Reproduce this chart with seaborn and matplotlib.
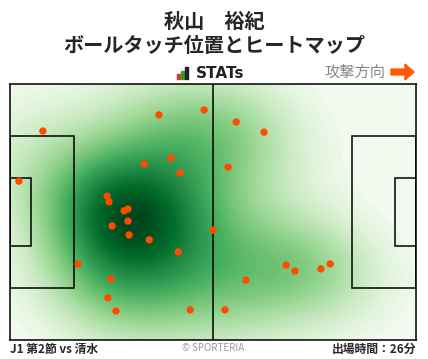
import numpy as np
import pandas as pd
import matplotlib.pyplot as plt
import matplotlib.patches as patches
import seaborn as sns

sns.set_style("white")
plt.rcParams['font.family'] = ['Noto Sans CJK JP', 'DejaVu Sans']

# ball touch positions (pitch 105 x 68, y measured from top touchline)
touch_x = [8.5, 2.3, 38.5, 50.2, 58.5, 65.7, 41.6, 34.7, 44.0, 56.4,
           25.1, 25.6, 30.5, 29.5, 30.5, 26.4, 30.8, 36.0, 52.5, 43.5,
           17.6, 26.1, 25.3, 27.4, 46.6, 55.6, 61.0, 71.4, 73.7, 80.4, 82.8]
touch_y = [12.5, 25.8, 8.2, 6.9, 10.1, 12.8, 19.7, 21.3, 23.6, 22.1,
           29.8, 31.3, 33.2, 33.7, 36.4, 37.7, 40.1, 41.4, 38.8, 44.6,
           47.8, 51.8, 56.8, 60.3, 60.0, 60.0, 52.1, 48.1, 49.7, 49.1, 47.8]
df = pd.DataFrame({"x": touch_x, "y": touch_y})

player = "秋山　裕紀"
subtitle = "ボールタッチ位置とヒートマップ"
match = "J1 第2節 vs 清水"
minutes = "出場時間：26分"

fig = plt.figure(figsize=(4.28, 3.59), dpi=100)
ax = fig.add_axes([10/428, 19/359, 406/428, 256/359])

sns.kdeplot(data=df, x="x", y="y", fill=True, cmap="Greens", levels=100,
            thresh=0, clip=((0, 105), (0, 68)), bw_adjust=1.25, ax=ax, zorder=1)

lw = 1.1
# halfway line
ax.plot([52.5, 52.5], [0, 68], color="black", lw=lw, zorder=3)
# penalty and goal areas
for x0, w in [(0, 16.5), (105 - 16.5, 16.5)]:
    ax.add_patch(patches.Rectangle((x0, 34 - 20.16), w, 40.32, fill=False,
                                   ec="black", lw=lw, zorder=3))
for x0, w in [(0, 5.5), (105 - 5.5, 5.5)]:
    ax.add_patch(patches.Rectangle((x0, 34 - 9.16), w, 18.32, fill=False,
                                   ec="black", lw=lw, zorder=3))

sns.scatterplot(data=df, x="x", y="y", color="#ff4b00", s=28, edgecolor="none",
                ax=ax, zorder=4)

ax.set_xlim(0, 105)
ax.set_ylim(68, 0)
ax.set_xticks([])
ax.set_yticks([])
ax.set_xlabel("")
ax.set_ylabel("")
for s in ax.spines.values():
    s.set_visible(True)
    s.set_color("black")
    s.set_linewidth(lw)

# header
fig.text(0.5, 1 - 22/359, player, ha="center", va="center", fontsize=14.5,
         fontweight="bold")
fig.text(0.5, 1 - 46/359, subtitle, ha="center", va="center", fontsize=14.5,
         fontweight="bold")

# STATs logo
for bx, bh, c in [(177, 5, "#e8352b"), (181, 8, "#2ca02c"), (185, 12, "#222222")]:
    fig.add_artist(patches.Rectangle((bx/428, 1 - 79/359), 3/428, bh/359,
                                     transform=fig.transFigure, color=c))
fig.text(196/428, 1 - 73/359, "STATs", ha="left", va="center", fontsize=11,
         fontweight="bold", color="#222222", family=["DejaVu Sans"])

# attack direction
fig.text(385/428, 1 - 72/359, "攻撃方向", ha="right", va="center", fontsize=11,
         color="#888888")
fig.add_artist(patches.FancyArrow(391/428, 1 - 72/359, 14/428, 0,
                                  width=6/359, head_width=16/359, head_length=9/428,
                                  length_includes_head=False, color="#ff5a00",
                                  transform=fig.transFigure))

# footer
fig.text(10/428, 1 - 349/359, match, ha="left", va="center", fontsize=8.5,
         fontweight="bold")
fig.text(213/428, 1 - 348/359, "© SPORTERIA", ha="center", va="center",
         fontsize=7, color="#999999")
fig.text(416/428, 1 - 349/359, minutes, ha="right", va="center", fontsize=8.5,
         fontweight="bold")

plt.savefig("out.png", dpi=100)
